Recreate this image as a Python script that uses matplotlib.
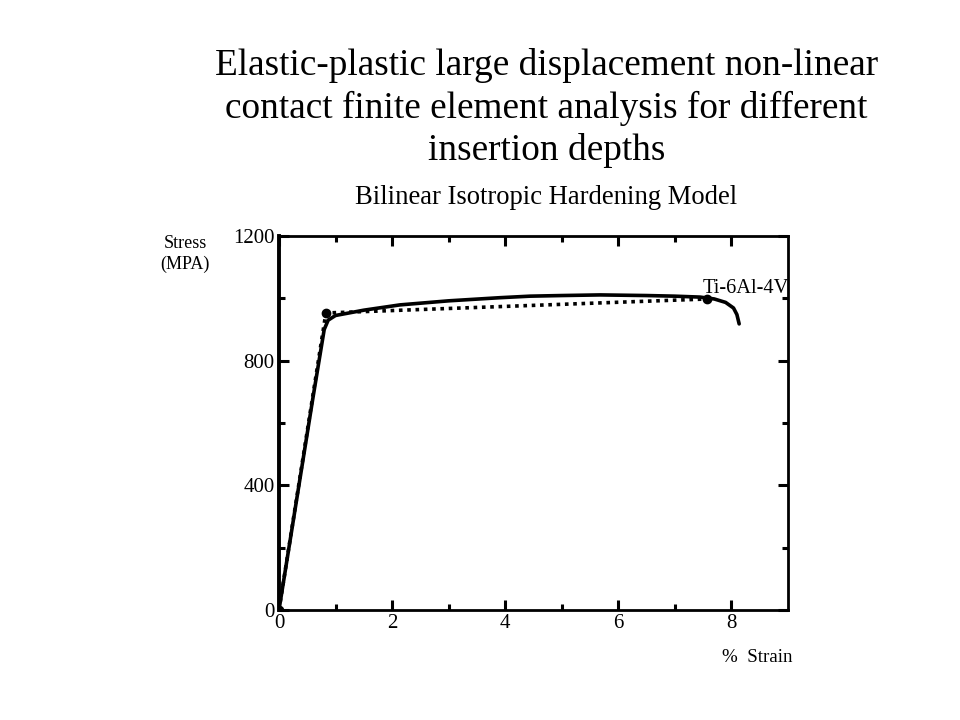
import matplotlib
matplotlib.use('Agg')
import matplotlib.pyplot as plt

plt.rcParams['font.family'] = ['Liberation Serif', 'DejaVu Serif']

# Experimental curve (solid)
strain_exp = [0.0, 0.3, 0.6, 0.8, 0.87, 1.0, 1.5, 2.14, 3.0, 3.9, 4.44, 5.0, 5.68, 6.5, 7.0, 7.45, 7.7, 7.9, 8.04, 8.1, 8.14]
stress_exp = [0.0, 340, 680, 900, 930, 945, 962, 979, 992, 1002, 1007, 1009, 1011, 1009, 1007, 1004, 998, 987, 969, 948, 918]

# Bilinear model (dotted)
strain_bil = [0.0, 0.83, 7.58]
stress_bil = [0.0, 953, 998]

# Marked points
strain_pts = [0.0, 0.83, 7.58]
stress_pts = [0.0, 953, 998]

fig = plt.figure(figsize=(9.6, 7.2), dpi=100)
ax = fig.add_axes([0.2906, 0.1528, 0.530, 0.5194])

ax.plot(strain_exp, stress_exp, color='black', lw=2.6, solid_capstyle='round')
ax.plot(strain_bil, stress_bil, color='black', lw=2.6, linestyle=(0, (1, 1.3)))
ax.plot(strain_pts, stress_pts, 'o', color='black', ms=6)

ax.set_xlim(0, 9)
ax.set_ylim(0, 1200)
ax.set_xticks([0, 2, 4, 6, 8])
ax.set_xticks([1, 3, 5, 7], minor=True)
ax.set_yticks([0, 400, 800, 1200])
ax.set_yticks([200, 600, 1000], minor=True)

ax.tick_params(which='both', direction='in', top=True, right=True, width=2.2, labelsize=15, pad=3)
ax.tick_params(which='major', length=7)
ax.tick_params(which='minor', length=4)
ax.spines['left'].set_linewidth(2.8)
for s in ['bottom', 'top', 'right']:
    ax.spines[s].set_linewidth(2.0)

ax.text(7.49, 1030, 'Ti-6Al-4V', fontsize=14.7, ha='left', va='center')

fig.text(0.569, 0.850, 'Elastic-plastic large displacement non-linear\ncontact finite element analysis for different\ninsertion depths',
         ha='center', va='center', fontsize=26.8, linespacing=1.28)
fig.text(0.569, 0.726, 'Bilinear Isotropic Hardening Model', ha='center', va='center', fontsize=19.2)
fig.text(0.193, 0.647, 'Stress\n(MPA)', ha='center', va='center', fontsize=13, linespacing=1.25)
fig.text(0.789, 0.0875, '%  Strain', ha='center', va='center', fontsize=13.7)

plt.savefig('out.png', dpi=100)
